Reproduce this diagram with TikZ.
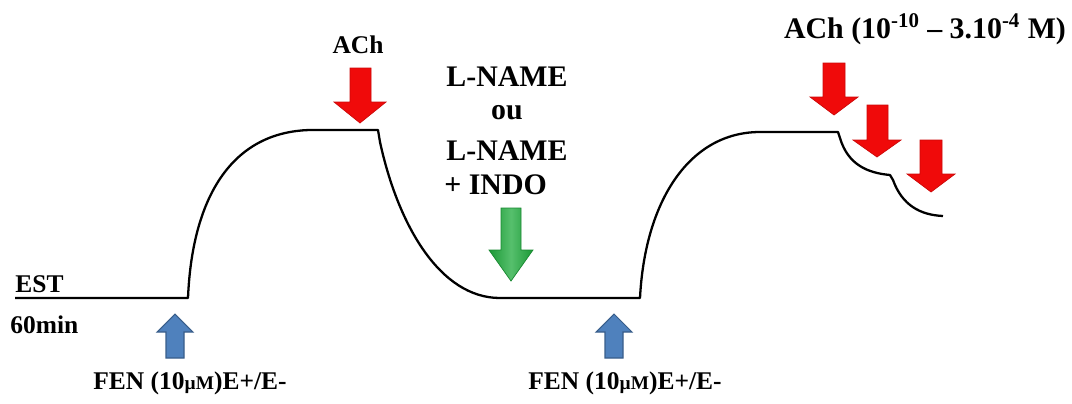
\documentclass[tikz,border=0pt]{standalone}
\usepackage{fontspec}
\setmainfont{Liberation Serif}

\definecolor{fenblue}{RGB}{79,129,189}
\definecolor{fenedge}{RGB}{56,93,138}
\definecolor{achred}{RGB}{240,10,10}
\definecolor{lngreen}{RGB}{30,170,60}

\tikzset{
  curve/.style={line width=1.3pt, line join=round},
  lbl/.style={font=\bfseries\fontsize{14.5}{17}\selectfont, inner sep=0pt},
  biglbl/.style={font=\bfseries\fontsize{17}{20}\selectfont, inner sep=0pt},
  redarrow/.style={fill=achred, draw=achred!85!black, line width=0.4pt},
  bluearrow/.style={fill=fenblue, draw=fenedge, line width=0.6pt},
  greenarrow/.style={left color=lngreen!90!black, right color=lngreen!90!black, middle color=lngreen!75!white, draw=lngreen!80!black, line width=0.4pt},
}

\begin{document}
\begin{tikzpicture}[x=0.02cm, y=-0.02cm]
  \useasboundingbox (0,0) rectangle (1072,403);

  % tension trace
  \draw[curve] (15,298) -- (188,298)
      .. controls (192,200) and (230,132) .. (310,130) -- (378,130)
      -- (380,142) .. controls (398,225) and (440,298) .. (500,298) -- (640,298)
      .. controls (645,200) and (690,132) .. (760,132) -- (838,132)
      -- (840,138) .. controls (848,165) and (868,173) .. (890,175)
      -- (893,180) .. controls (902,205) and (920,215) .. (943,216);

  % ACh (single dose)
  \draw[redarrow] (350,68) -- (371,68) -- (371,102) -- (386,102) -- (360,123)
      -- (334,102) -- (350,102) -- cycle;

  % ACh cumulative doses
  \draw[redarrow] (823,63) -- (845,63) -- (845,97) -- (858,97) -- (834,115)
      -- (810,97) -- (823,97) -- cycle;
  \draw[redarrow] (867,105) -- (888,105) -- (888,140) -- (901,140) -- (877,157)
      -- (853,140) -- (867,140) -- cycle;
  \draw[redarrow] (920,140) -- (942,140) -- (942,174) -- (955,174) -- (931,192)
      -- (907,174) -- (920,174) -- cycle;

  % L-NAME / INDO
  \draw[greenarrow] (501,208) -- (521,208) -- (521,250) -- (533,250) -- (511,281)
      -- (489,250) -- (501,250) -- cycle;

  % FEN
  \draw[bluearrow] (166,358) -- (184,358) -- (184,332) -- (193,332) -- (175,314)
      -- (157,332) -- (166,332) -- cycle;
  \draw[bluearrow] (605,358) -- (623,358) -- (623,332) -- (632,332) -- (614,314)
      -- (596,332) -- (605,332) -- cycle;

  % labels
  \node[lbl, anchor=west] (est) at (15,284) {EST};
  \node[lbl, anchor=west] (min) at (10,325) {60min};
  \node[lbl] (fen1) at (190,383) {FEN (10{\fontsize{11}{13}\selectfont µM})E+/E-};
  \node[lbl] (fen2) at (625,383) {FEN (10{\fontsize{11}{13}\selectfont µM})E+/E-};
  \node[lbl] (ach) at (358,45) {ACh};
  \node[biglbl] (achdose) at (925,29) {ACh (10\textsuperscript{-10} – 3.10\textsuperscript{-4} M)};
  \node[biglbl] (lname1) at (507,77) {L-NAME};
  \node[biglbl] (ou) at (507,113) {ou};
  \node[biglbl] (lname2) at (507,151) {L-NAME};
  \node[biglbl, anchor=west] (indo) at (444,185) {+ INDO};
\end{tikzpicture}
\end{document}
